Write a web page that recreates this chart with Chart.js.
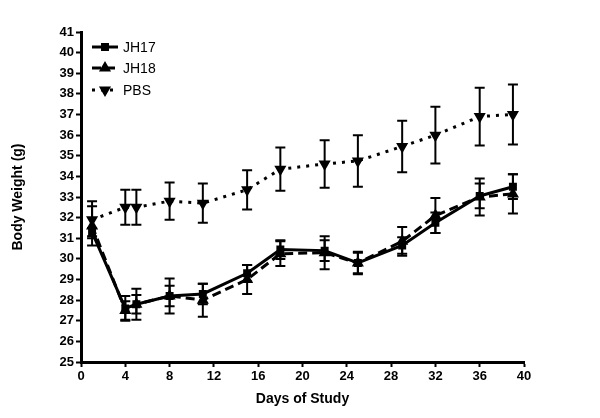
<!DOCTYPE html>
<html>
<head>
<meta charset="utf-8">
<script src="https://cdn.jsdelivr.net/npm/chart.js@4"></script>
<style>
  html, body { margin: 0; padding: 0; background: #fff; }
  #wrap { width: 600px; height: 418px; }
</style>
</head>
<body>
<div id="wrap"><canvas id="grafico" width="600" height="418"></canvas></div>
<script>
// days of measurement and mean body weight (g) with SEM
const days = [1, 4, 5, 8, 11, 15, 18, 22, 25, 29, 32, 36, 39];
const jh17 = [31.3, 27.6, 27.8, 28.2, 28.3, 29.3, 30.45, 30.4, 29.8, 30.65, 31.75, 33.05, 33.5];
const jh17Err = [0.2, 0.6, 0.75, 0.85, 0.5, 0.4, 0.45, 0.5, 0.5, 0.4, 0.5, 0.6, 0.6];
const jh18 = [31.6, 27.5, 27.8, 28.2, 28.0, 29.0, 30.25, 30.3, 29.8, 30.85, 32.1, 33.0, 33.15];
const jh18Err = [0.95, 0.45, 0.45, 0.5, 0.8, 0.7, 0.6, 0.8, 0.55, 0.7, 0.85, 0.9, 0.95];
const pbs = [31.9, 32.5, 32.5, 32.8, 32.7, 33.35, 34.35, 34.6, 34.75, 35.45, 36.0, 36.9, 37.0];
const pbsErr = [0.9, 0.85, 0.85, 0.9, 0.95, 0.95, 1.05, 1.15, 1.25, 1.25, 1.37, 1.4, 1.45];
const seriesNames = ['JH17', 'JH18', 'PBS'];
const errores = [jh17Err, jh18Err, pbsErr];

const toPoints = vals => days.map((d, i) => ({ x: d, y: vals[i] }));

// error bars drawn through the chart scales
const errorBars = {
    id: 'errorBars',
    afterDatasetsDraw(chart) {
        const ctx = chart.ctx;
        const xs = chart.scales.x, ys = chart.scales.y;
        ctx.save();
        ctx.strokeStyle = '#000';
        ctx.lineWidth = 2;
        ctx.setLineDash([]);
        chart.data.datasets.forEach((ds, k) => {
            ds.data.forEach((p, i) => {
                const e = errores[k][i];
                const x = xs.getPixelForValue(p.x);
                const yTop = ys.getPixelForValue(p.y + e);
                const yBot = ys.getPixelForValue(p.y - e);
                ctx.beginPath();
                ctx.moveTo(x, yTop); ctx.lineTo(x, yBot);
                ctx.moveTo(x - 5, yTop); ctx.lineTo(x + 5, yTop);
                ctx.moveTo(x - 5, yBot); ctx.lineTo(x + 5, yBot);
                ctx.stroke();
            });
        });
        ctx.restore();
    }
};

// legend inside the plot, top left
const leyenda = {
    id: 'leyenda',
    afterDraw(chart) {
        const ctx = chart.ctx;
        const x0 = chart.chartArea.left + 11;
        const rows = [47, 68, 90];
        ctx.save();
        chart.data.datasets.forEach((ds, k) => {
            const y = rows[k];
            ctx.strokeStyle = '#000';
            ctx.lineWidth = 3;
            ctx.lineCap = 'butt';
            ctx.setLineDash(ds.borderDash || []);
            ctx.beginPath();
            ctx.moveTo(x0, y); ctx.lineTo(x0 + 26, y);
            ctx.stroke();
            ctx.setLineDash([]);
            Chart.helpers.drawPoint(ctx, {
                pointStyle: ds.pointStyle, radius: ds.pointRadius,
                rotation: ds.pointRotation || 0, borderWidth: 1
            }, x0 + 13, y);
            ctx.fillStyle = '#000';
            ctx.font = '14px "Liberation Sans", Arial, sans-serif';
            ctx.textBaseline = 'middle';
            ctx.fillText(seriesNames[k], x0 + 31, y + 1);
        });
        ctx.restore();
    }
};

const common = {
    borderColor: '#000',
    backgroundColor: '#000',
    pointBackgroundColor: '#000',
    pointBorderColor: '#000',
    borderWidth: 3,
    borderCapStyle: 'butt',
    tension: 0,
    fill: false
};

new Chart(document.getElementById('grafico'), {
    type: 'line',
    data: {
        datasets: [
            Object.assign({ label: seriesNames[0], data: toPoints(jh17), pointStyle: 'rect', pointRadius: 3.5 }, common),
            Object.assign({ label: seriesNames[1], data: toPoints(jh18), pointStyle: 'triangle', pointRadius: 4, borderDash: [9, 5] }, common),
            Object.assign({ label: seriesNames[2], data: toPoints(pbs), pointStyle: 'triangle', pointRotation: 180, pointRadius: 4, borderDash: [3, 6] }, common)
        ]
    },
    options: {
        responsive: false,
        animation: false,
        layout: { padding: { top: 32, right: 76, left: 0, bottom: 0 } },
        plugins: { legend: { display: false }, tooltip: { enabled: false } },
        scales: {
            x: {
                type: 'linear',
                min: 0, max: 40,
                afterFit: s => { s.height = 56; },
                ticks: { stepSize: 4, color: '#000', padding: 2, font: { family: '"Liberation Sans", Arial, sans-serif', size: 13, weight: 'bold' } },
                grid: { drawOnChartArea: false, tickLength: 5, tickWidth: 2, tickColor: '#000' },
                border: { color: '#000', width: 3 },
                title: { display: true, text: 'Days of Study', color: '#000', padding: { top: 2, bottom: 10 }, font: { family: '"Liberation Sans", Arial, sans-serif', size: 14, weight: 'bold' } }
            },
            y: {
                min: 25, max: 41,
                afterFit: s => { s.width = 81; },
                ticks: { stepSize: 1, color: '#000', padding: 2, font: { family: '"Liberation Sans", Arial, sans-serif', size: 13, weight: 'bold' } },
                grid: { drawOnChartArea: false, tickLength: 5, tickWidth: 2, tickColor: '#000' },
                border: { color: '#000', width: 3 },
                title: { display: true, text: 'Body Weight (g)', color: '#000', padding: { top: 10, bottom: 0 }, font: { family: '"Liberation Sans", Arial, sans-serif', size: 14, weight: 'bold' } }
            }
        }
    },
    plugins: [errorBars, leyenda]
});
</script>
</body>
</html>
